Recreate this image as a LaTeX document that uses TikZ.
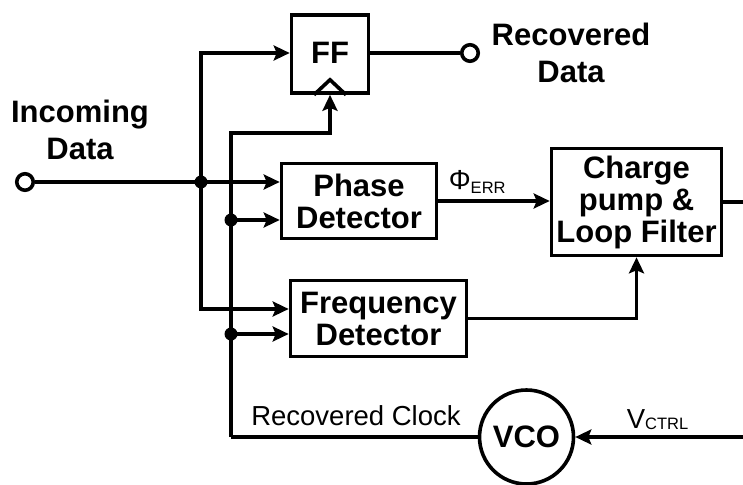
\documentclass[tikz,border=0pt]{standalone}
\usepackage{fontspec}
\setmainfont{Liberation Sans}
\usetikzlibrary{arrows.meta}
\begin{document}
\begin{tikzpicture}[x=1pt,y=-1pt,
  line width=3.6pt,
  blk/.style={draw, line width=3.6pt, inner sep=0pt, align=center, font=\fontsize{31}{32}\selectfont\bfseries},
  lbl/.style={inner sep=0pt, align=center, font=\fontsize{31}{37}\selectfont\bfseries},
  rlbl/.style={inner sep=0pt, font=\fontsize{27.5}{30}\selectfont},
  arr/.style={-{Stealth[length=16pt,width=15pt,inset=3pt]}},
  jdot/.style={circle, fill, inner sep=0pt, minimum size=13pt},
  port/.style={circle, draw, fill=white, inner sep=0pt, minimum size=16.5pt, line width=3.6pt},
]
\useasboundingbox (0,0) rectangle (743,484);

% blocks
\node[blk, minimum width=77pt, minimum height=78pt] (ff) at (330,54) {\raisebox{3pt}{FF}};
\node[blk, minimum width=155pt, minimum height=75pt] (pd) at (359,201) {Phase\\Detector};
\node[blk, minimum width=176pt, minimum height=76pt] (fd) at (378.5,318.5) {Frequency\\Detector};
\node[blk, minimum width=170pt, minimum height=107pt] (cp) at (636.5,202) {Charge\\pump \&\\Loop Filter};
\node[blk, circle, minimum size=94pt] (vco) at (526.5,437) {VCO};

% clock triangle
\draw ([xshift=-16pt]ff.south) -- ([yshift=15pt]ff.south) -- ([xshift=16pt]ff.south);

% coordinates
\coordinate (j1) at (201,182);
\coordinate (b1) at (201,309);
\coordinate (t2) at (231,133);
\coordinate (j2) at (231,220);
\coordinate (j3) at (231,334);
\coordinate (b2) at (231,437);
\coordinate (cpout) at (750,202);
\coordinate (vin) at (750,437);

% ports
\node[port] (in) at (25,182) {};
\node[port] (out) at (470,53) {};

% connectors
\draw (in) -- (j1);
\draw[arr] (j1) -- (pd.west |- j1);
\draw[arr] (j1) |- (ff.west |- out);
\draw[arr] (j1) -- (b1) -- (fd.west |- b1);
\draw[arr] (b2) -- (t2) -| (ff.south);
\draw[arr] (j2) -- (pd.west |- j2);
\draw[arr] (j3) -- (fd.west |- j3);
\draw (ff.east |- out) -- (out);
\draw[arr] (pd.east) -- (cp.west |- pd.east);
\draw[arr] (fd.east) -| (cp.south);
\draw (cp.east) -- (cpout);
\draw[arr] (vin) -- (vco.east);
\draw (b2) -- (vco.west);

% junction dots
\node[jdot] (d1) at (j1) {};
\node[jdot] (d2) at (j2) {};
\node[jdot] (d3) at (j3) {};

% labels
\node[lbl] (inlbl) at (80,130) {Incoming\\Data};
\node[lbl] (outlbl) at (571,53) {Recovered\\Data};
\node[rlbl, anchor=base] (rclk) at (356,425) {Recovered Clock};
\node[rlbl, anchor=base west] (vctrl) at (625,428) {V\raisebox{-1.5pt}{\fontsize{16.5}{16}\selectfont CTRL}};
\node[rlbl, anchor=base west] (phi) at (447,189) {Φ\raisebox{-4pt}{\fontsize{16.5}{16}\selectfont ERR}};
\end{tikzpicture}
\end{document}
